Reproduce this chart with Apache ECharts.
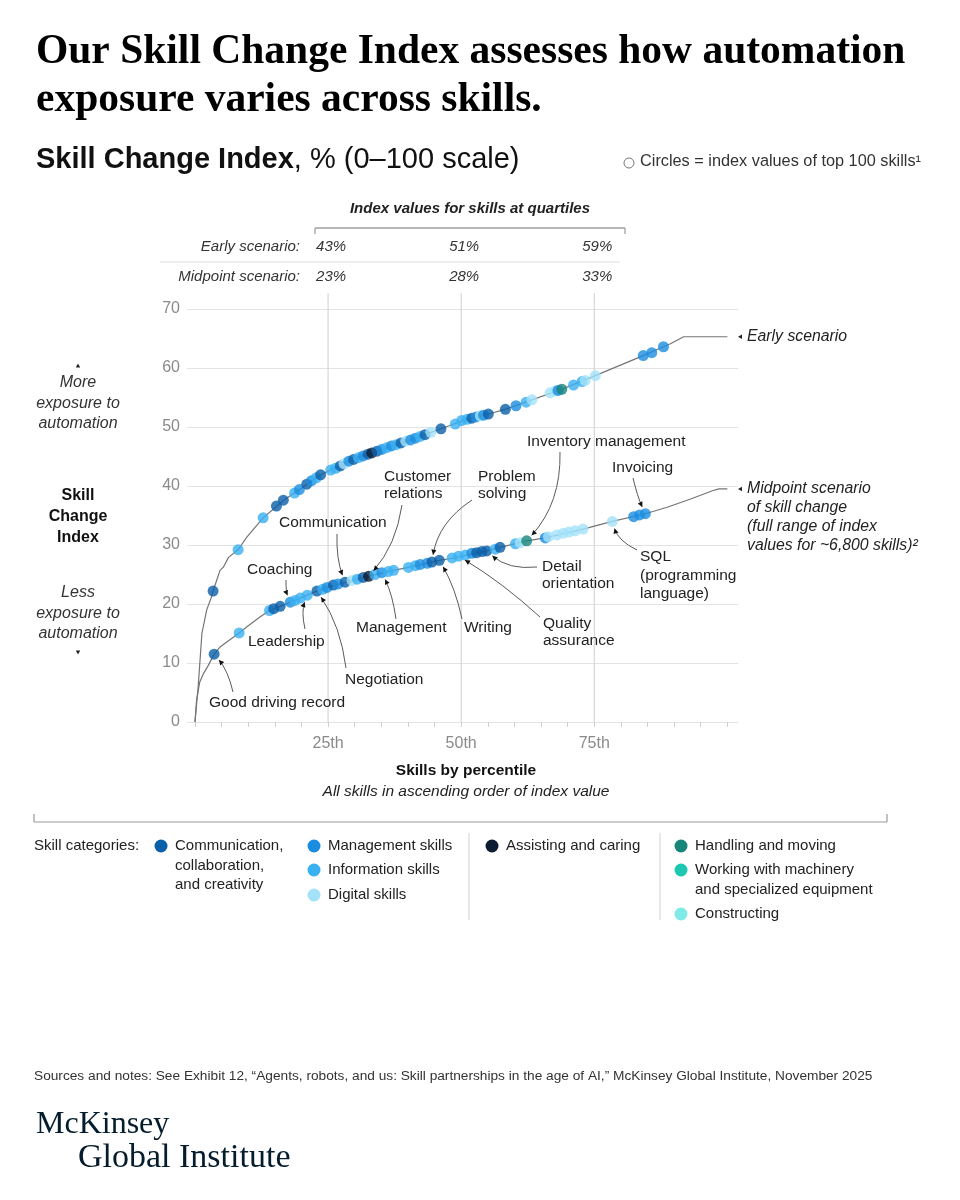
<!DOCTYPE html>
<html><head><meta charset="utf-8">
<script src="https://cdn.jsdelivr.net/npm/echarts@6/dist/echarts.min.js"></script>
<style>html,body{margin:0;padding:0;background:#fff}#c{width:960px;height:1200px}</style>
</head><body><div id="c"></div>
<script>
// ---------- DATA ----------
const categories = ['Communication,\ncollaboration,\nand creativity', 'Management skills', 'Information skills', 'Digital skills',
  'Assisting and caring', 'Handling and moving', 'Working with machinery\nand specialized equipment', 'Constructing'];
const categoryColors = ['#0a5fa9', '#1a8de0', '#38b0f2', '#a4e2fa', '#0b1c33', '#16857a', '#1dc7b2', '#80eae6'];
const quartileTicks = [25, 50, 75];
const quartileSuffix = 'th';
const percentileTicks = [0, 5, 10, 15, 20, 25, 30, 35, 40, 45, 50, 55, 60, 65, 70, 75, 80, 85, 90, 95, 100];
const scenarioNames = ['Early scenario:', 'Midpoint scenario:'];
const earlyQuartiles = ['43%', '51%', '59%'];
const midQuartiles = ['23%', '28%', '33%'];

// full range of index values, [percentile, index]
const earlyLine = [[0,0],[0.6,6],[1.3,15],[2.2,19],[3.1,21.2],[3.4,22.2],[4.7,25.7],[5.3,26.2],[6.3,27.9],[8.1,29.2],[9.7,31.3],[12.8,34.6],[15.4,36.6],[16.7,37.6],[18.8,38.9],[19.7,39.4],[21.0,40.3],[23.6,41.9],[25.7,42.8],[29.5,44.4],[34.2,45.9],[41.7,48.2],[46.2,49.7],[49.8,50.9],[55.1,52.2],[58.3,53.0],[63.3,54.6],[68.9,56.4],[75.2,58.7],[84.2,62.1],[88.0,63.6],[89.3,64.1],[91.8,65.3],[100,65.3]];
const midLine = [[0,0],[0.3,3.7],[0.9,6.8],[1.6,8.2],[2.5,9.6],[3.6,11.5],[4.7,12.7],[5.6,13.3],[8.3,15.1],[9.7,16.1],[12.2,17.8],[14.0,18.9],[16.0,19.6],[17.9,20.3],[21.1,21.5],[22.9,22.2],[24.8,22.8],[32.6,24.7],[37.3,25.7],[40.1,26.2],[45.9,27.4],[48.6,27.8],[54.8,29.0],[57.3,29.6],[62.3,30.7],[65.8,31.2],[72.9,32.7],[78.4,34.0],[84.6,35.3],[88.7,36.4],[93.1,37.8],[97.2,39.2],[98.4,39.5],[100,39.5]];

// top skills, [percentile, index, category]
const earlyDots = [[3.4,22.2,0],[8.1,29.2,2],[12.8,34.6,2],[15.3,36.6,0],[16.6,37.6,0],[18.7,38.8,2],[19.6,39.4,1],[21.0,40.3,0],[21.9,40.9,1],[22.8,41.4,2],[23.6,41.9,0],
  [25.5,42.7,2],[26.4,43.0,2],[27.3,43.4,0],[28.0,43.8,3],[28.9,44.2,1],[29.8,44.5,0],[30.7,44.8,2],[31.6,45.1,1],[32.5,45.4,0],[33.2,45.6,4],[34.2,45.9,0],[35.1,46.2,1],[36.0,46.5,2],[36.9,46.8,1],[37.8,47.0,2],[38.7,47.3,0],[39.6,47.6,3],[40.5,47.8,1],[41.4,48.1,1],[42.3,48.4,2],[43.2,48.7,0],[44.3,49.1,3],[46.2,49.7,0],
  [48.9,50.5,2],[50.1,51.1,2],[51.1,51.3,2],[52.0,51.5,0],[52.8,51.7,1],[53.6,51.9,3],[54.2,52.0,1],[55.1,52.2,0],[58.3,53.0,0],[60.3,53.6,1],[62.2,54.2,2],[63.3,54.6,3],
  [66.7,55.8,3],[67.7,56.1,3],[68.2,56.2,1],[68.9,56.4,5],[71.1,57.1,2],[72.7,57.7,2],[73.3,57.9,3],[75.2,58.7,3],[84.2,62.1,1],[85.8,62.6,1],[88.0,63.6,1]];
const midDots = [[3.6,11.5,0],[8.3,15.1,2],[14.0,18.9,2],[14.8,19.2,0],[16.0,19.6,0],[17.9,20.3,1],[18.8,20.6,2],[19.8,21.0,2],[21.1,21.5,2],[22.9,22.2,0],
  [24.0,22.5,2],[24.8,22.8,1],[26.0,23.2,0],[26.9,23.4,1],[28.2,23.7,0],[29.5,24.0,3],[30.5,24.2,2],[31.6,24.5,0],[32.6,24.7,4],[33.8,25.0,2],[35.1,25.3,1],[36.3,25.5,2],[37.3,25.7,2],
  [40.1,26.2,2],[41.4,26.5,2],[42.3,26.7,1],[43.6,26.9,1],[44.5,27.1,0],[45.9,27.4,0],[48.3,27.8,2],[49.5,28.1,2],[50.8,28.3,2],[52.0,28.6,1],[52.9,28.7,0],[53.9,28.9,0],[54.8,29.0,0],[56.4,29.3,2],[57.3,29.6,0],
  [60.2,30.2,2],[61.1,30.4,3],[62.3,30.7,5],[65.8,31.2,1],[66.4,31.4,3],[68.0,31.7,3],[69.2,32.0,3],[70.2,32.2,3],[71.4,32.4,3],[72.9,32.7,3],[78.4,34.0,3],[82.4,34.8,1],[83.5,35.1,1],[84.6,35.3,1]];

// ---------- CHART ----------
const SANS = "'Liberation Sans', Arial, sans-serif";
const SERIF = "'Liberation Serif', 'Times New Roman', serif";
const chart = echarts.init(document.getElementById('c'), null, {renderer: 'canvas'});
const dotItems = dots => dots.map(d => ({value: [d[0], d[1]], itemStyle: {color: categoryColors[d[2]]}}));

chart.setOption({
  animation: false,
  backgroundColor: '#fff',
  grid: {left: 187, right: 222, top: 309, bottom: 478},
  xAxis: {type: 'value', min: -1.5, max: 102,
    axisLine: {show: false},
    axisTick: {show: true, customValues: percentileTicks, length: 5, lineStyle: {color: '#cfcfcf'}},
    axisLabel: {customValues: quartileTicks, formatter: v => v + quartileSuffix, color: '#8a8a8a', fontSize: 16, margin: 14, fontFamily: SANS},
    splitLine: {show: false}},
  yAxis: {type: 'value', min: 0, max: 70, interval: 10,
    axisLine: {show: false}, axisTick: {show: false},
    axisLabel: {color: '#8a8a8a', fontSize: 16, margin: 7, fontFamily: SANS},
    splitLine: {lineStyle: {color: '#e3e3e3', width: 1}}},
  series: [
    {type: 'line', data: earlyLine, showSymbol: false, silent: true, lineStyle: {color: '#757575', width: 1.2}, z: 3},
    {type: 'line', data: midLine, showSymbol: false, silent: true, lineStyle: {color: '#757575', width: 1.2}, z: 3},
    {type: 'scatter', data: dotItems(earlyDots), symbolSize: 11, silent: true, z: 4},
    {type: 'scatter', data: dotItems(midDots), symbolSize: 11, silent: true, z: 4}
  ]
});

// ---------- ANNOTATIONS ----------
const G = [];
const P = (x, y) => chart.convertToPixel({gridIndex: 0}, [x, y]);
function txt(x, y, text, font, opt) {
  G.push({type: 'text', x: x, y: y, silent: true, z: 10,
    style: Object.assign({text: text, font: font, fill: '#222', align: 'left', textAlign: 'left', verticalAlign: 'middle', textVerticalAlign: 'middle'}, opt || {})});
}
function ml(x, y, text, font, lh, opt) { // multi-line, y = center of first line
  txt(x, y - lh / 2, text, font, Object.assign({lineHeight: lh, verticalAlign: 'top', textVerticalAlign: 'top'}, opt || {}));
}
function line(x1, y1, x2, y2, color, w) {
  G.push({type: 'line', silent: true, z: 1, shape: {x1: x1, y1: y1, x2: x2, y2: y2}, style: {stroke: color, lineWidth: w || 1}});
}
function poly(pts, color) { G.push({type: 'polygon', silent: true, z: 10, shape: {points: pts}, style: {fill: color}}); }
function arrow(sx, sy, dot, bend) {
  const t = P(dot[0], dot[1]);
  const tx = t[0], ty = t[1], dx = tx - sx, dy = ty - sy;
  const cx = (sx + tx) / 2 - dy * bend, cy = (sy + ty) / 2 + dx * bend;
  let ux = tx - cx, uy = ty - cy; const L = Math.hypot(ux, uy); ux /= L; uy /= L;
  const ex = tx - ux * 7.5, ey = ty - uy * 7.5;
  G.push({type: 'bezierCurve', silent: true, z: 9, shape: {x1: sx, y1: sy, x2: ex, y2: ey, cpx1: cx, cpy1: cy},
    style: {stroke: '#5a5a5a', lineWidth: 1, fill: 'none'}});
  const bx = ex - ux * 5, by = ey - uy * 5;
  poly([[ex, ey], [bx - uy * 2.6, by + ux * 2.6], [bx + uy * 2.6, by - ux * 2.6]], '#111');
}

// title
const TF = 'bold 41.5px ' + SERIF;
txt(36, 52, 'Our Skill Change Index assesses how automation', TF, {fill: '#000'});
txt(36, 100, 'exposure varies across skills.', TF, {fill: '#000'});
G.push({type: 'text', x: 36, y: 160, silent: true, style: {text: '{b|Skill Change Index}{r|, % (0–100 scale)}', verticalAlign: 'middle', textVerticalAlign: 'middle',
  rich: {b: {fontWeight: 'bold', fontSize: 29, fontFamily: SANS, fill: '#111'}, r: {fontSize: 29, fontFamily: SANS, fill: '#111'}}}});
G.push({type: 'circle', silent: true, shape: {cx: 629, cy: 163, r: 5}, style: {fill: '#fff', stroke: '#777', lineWidth: 1}});
txt(640, 162, 'Circles = index values of top 100 skills¹', '16.3px ' + SANS, {fill: '#333'});

// quartile table
const qx = quartileTicks.map(q => P(q, 0)[0]);
txt(470, 209, 'Index values for skills at quartiles', 'italic bold 15px ' + SANS, {fill: '#222', align: 'center', textAlign: 'center'});
line(315, 228, 625, 228, '#a0a0a0', 1.3); line(315, 228, 315, 234, '#a0a0a0', 1.3); line(625, 228, 625, 234, '#a0a0a0', 1.3);
txt(300, 247, scenarioNames[0], 'italic 15px ' + SANS, {fill: '#333', align: 'right', textAlign: 'right'});
txt(300, 277, scenarioNames[1], 'italic 15px ' + SANS, {fill: '#333', align: 'right', textAlign: 'right'});
line(160, 262, 620, 262, '#dcdcdc', 1);
qx.forEach((x, i) => {
  txt(x + 3, 247, earlyQuartiles[i], 'italic 15px ' + SANS, {fill: '#333', align: 'center', textAlign: 'center'});
  txt(x + 3, 277, midQuartiles[i], 'italic 15px ' + SANS, {fill: '#333', align: 'center', textAlign: 'center'});
  line(x, 293, x, P(0, 0)[1], '#cfcfcf', 1);
});

// left annotations
const IF16 = 'italic 16px ' + SANS;
ml(78, 383, 'More\nexposure to\nautomation', IF16, 20.5, {fill: '#333', align: 'center', textAlign: 'center'});
ml(78, 496, 'Skill\nChange\nIndex', 'bold 16px ' + SANS, 21, {fill: '#111', align: 'center', textAlign: 'center'});
ml(78, 593, 'Less\nexposure to\nautomation', IF16, 20.5, {fill: '#333', align: 'center', textAlign: 'center'});
poly([[78, 363.5], [75.8, 367.5], [80.2, 367.5]], '#222');
poly([[78, 654.5], [75.8, 650.5], [80.2, 650.5]], '#222');

// series end labels
const eEnd = P(earlyLine[earlyLine.length - 1][0], earlyLine[earlyLine.length - 1][1]);
const mEnd = P(midLine[midLine.length - 1][0], midLine[midLine.length - 1][1]);
poly([[738, eEnd[1]], [742, eEnd[1] - 2.3], [742, eEnd[1] + 2.3]], '#222');
txt(747, eEnd[1], 'Early scenario', 'italic 15.8px ' + SANS, {fill: '#222'});
poly([[738, mEnd[1]], [742, mEnd[1] - 2.3], [742, mEnd[1] + 2.3]], '#222');
ml(747, mEnd[1], 'Midpoint scenario\nof skill change\n(full range of index\nvalues for ~6,800 skills)²', 'italic 15.8px ' + SANS, 19, {fill: '#222'});

// callouts
const AF = '15.5px ' + SANS;
txt(209, 703, 'Good driving record', AF);           arrow(233, 692, midDots[0], 0.12);
txt(247, 570, 'Coaching', AF);                      arrow(286, 580, midDots[5], 0.1);
txt(248, 642, 'Leadership', AF);                    arrow(305, 629, midDots[8], -0.15);
txt(345, 680, 'Negotiation', AF);                   arrow(346, 668, midDots[9], 0.12);
txt(279, 523, 'Communication', AF);                 arrow(337, 534, midDots[14], 0.1);
ml(384, 477, 'Customer\nrelations', AF, 17);        arrow(402, 505, midDots[18], -0.15);
ml(478, 477, 'Problem\nsolving', AF, 17);           arrow(472, 500, midDots[27], 0.22);
txt(356, 628, 'Management', AF);                    arrow(396, 619, midDots[20], 0.08);
txt(464, 628, 'Writing', AF);                       arrow(462, 619, midDots[28], 0.08);
ml(543, 624, 'Quality\nassurance', AF, 17);         arrow(540, 617, midDots[30], 0.05);
ml(542, 567, 'Detail\norientation', AF, 17);        arrow(537, 567, midDots[35], -0.22);
txt(527, 442, 'Inventory management', AF);          arrow(560, 452, midDots[40], -0.2);
txt(612, 468, 'Invoicing', AF);                     arrow(633, 478, midDots[51], 0.05);
ml(640, 557, 'SQL\n(programming\nlanguage)', AF, 18.5); arrow(637, 550, midDots[48], -0.22);

// x axis titles
txt(466, 771, 'Skills by percentile', 'bold 15.5px ' + SANS, {fill: '#111', align: 'center', textAlign: 'center'});
txt(466, 792, 'All skills in ascending order of index value', 'italic 15.5px ' + SANS, {fill: '#222', align: 'center', textAlign: 'center'});
line(34, 822, 887, 822, '#9a9a9a', 1.2); line(34, 814, 34, 822, '#9a9a9a', 1.2); line(887, 814, 887, 822, '#9a9a9a', 1.2);

// legend
const LF = '15px ' + SANS;
txt(34, 846, 'Skill categories:', LF, {fill: '#222'});
const legendPos = [[161, 846], [314, 846], [314, 870], [314, 895], [492, 846], [681, 846], [681, 870], [681, 914]];
categories.forEach((c, i) => {
  const p = legendPos[i];
  G.push({type: 'circle', silent: true, shape: {cx: p[0], cy: p[1], r: 6.5}, style: {fill: categoryColors[i]}});
  ml(p[0] + 14, p[1], c, LF, 19.5, {fill: '#222'});
});
line(469, 833, 469, 920, '#d0d0d0', 1);
line(660, 833, 660, 920, '#d0d0d0', 1);

// footer
txt(34, 1076, 'Sources and notes: See Exhibit 12, “Agents, robots, and us: Skill partnerships in the age of AI,” McKinsey Global Institute, November 2025', '13.7px ' + SANS, {fill: '#333'});
txt(36, 1125, 'McKinsey', '32px ' + SERIF, {fill: '#051c2c'});
txt(78, 1158, 'Global Institute', '34px ' + SERIF, {fill: '#051c2c'});

chart.setOption({graphic: {elements: G}});
</script></body></html>
